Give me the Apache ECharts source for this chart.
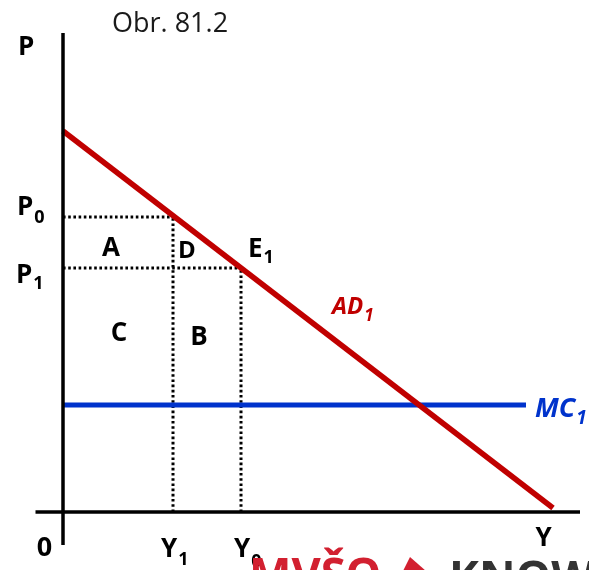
<!DOCTYPE html>
<html><head><meta charset="utf-8">
<script src="https://cdn.jsdelivr.net/npm/echarts@6/dist/echarts.min.js"></script>
<style>html,body{margin:0;padding:0;background:#fff}#c{width:589px;height:570px}</style>
</head><body><div id="c"></div>
<script>
// ---- data (economic units) ----
const xRange = [-12.6, 105.2];
const yRange = [-11.6, 102.4];
const adCurve = [[0, 76.2], [98, 0.8]];          // AD1
const mcCurve = [[0, 21.4], [92.6, 21.4]];       // MC1
const priceLevels = [59, 48.8];                  // P0, P1
const outputLevels = [22, 35.6];                 // Y1, Y0
const xAxisExtent = [-5.5, 103.4];
const yAxisExtent = [-6.6, 95.8];

const FONT = '"Open Sans", "Noto Sans", sans-serif';
const chart = echarts.init(document.getElementById('c'), null, {renderer: 'canvas'});

const dotted = {color: '#000', width: 3, type: [2.6, 2.6]};
function seg(data, ls, z) {
  return {type: 'line', data, symbol: 'none', silent: true, z: z, lineStyle: ls, animation: false};
}
const [P0, P1] = priceLevels;
const [Y1, Y0] = outputLevels;

chart.setOption({
  animation: false,
  grid: {left: 0, right: 0, top: 0, bottom: 0},
  xAxis: {type: 'value', min: xRange[0], max: xRange[1], show: false},
  yAxis: {type: 'value', min: yRange[0], max: yRange[1], show: false},
  series: [
    seg([[0, P0], [Y1, P0]], dotted, 2),
    seg([[Y1, 0], [Y1, P0]], dotted, 2),
    seg([[0, P1], [Y0, P1]], dotted, 2),
    seg([[Y0, 0], [Y0, P1]], dotted, 2),
    seg(mcCurve, {color: '#0033CC', width: 5}, 3),
    seg(adCurve, {color: '#C00000', width: 5.5}, 4),
    seg([[xAxisExtent[0], 0], [xAxisExtent[1], 0]], {color: '#000', width: 3.5}, 5),
    seg([[0, yAxisExtent[0]], [0, yAxisExtent[1]]], {color: '#000', width: 3.5}, 5)
  ]
});

const ctx = document.createElement('canvas').getContext('2d');
function measure(t, font) { ctx.font = font; return ctx.measureText(t).width; }

const g = [];
function label(anchor, dx, dy, main, sub, o) {
  o = o || {};
  const [ax, ay] = chart.convertToPixel({gridIndex: 0}, anchor);
  const size = o.size || 26, subSize = o.subSize || 18;
  const st = o.italic ? 'italic ' : '';
  const font = st + 'bold ' + size + 'px ' + FONT;
  const sfont = st + 'bold ' + subSize + 'px ' + FONT;
  const align = o.align || 'left';
  const x = ax + dx, y = ay + dy;
  g.push({type: 'text', x: x, y: y, z: 10, style: {text: main, font: font, fill: o.color || '#000', textAlign: align, textVerticalAlign: 'middle'}});
  if (sub) {
    const w = measure(main, font);
    const left = align === 'center' ? x + w / 2 : x + w;
    g.push({type: 'text', x: left + (o.subGap == null ? 1 : o.subGap), y: y + (o.subDy == null ? 9 : o.subDy), z: 10,
      style: {text: sub, font: sfont, fill: o.color || '#000', textAlign: 'left', textVerticalAlign: 'middle'}});
  }
}

label([0, yAxisExtent[1]], -45, 15, 'P');
label([0, P0], -46, -9, 'P', '0', {subDy: 10});
label([0, P1], -47, 8, 'P', '1', {subDy: 8});
label([Y1 / 2, (P0 + P1) / 2], -7, 6, 'A', null, {align: 'center'});
label([Y1, (P0 + P1) / 2], 14, 9, 'D', null, {align: 'center', size: 24});
label([Y0, P1], 7, -18, 'E', '1', {subDy: 8});
label([Y1 / 2, P1], 1, 66, 'C', null, {align: 'center'});
label([(Y1 + Y0) / 2, P1], -8, 70, 'B', null, {align: 'center'});
label([54, adCurve[0][1] + (adCurve[1][1] - adCurve[0][1]) * 54 / adCurve[1][0]], -1, -32, 'AD', '1',
  {italic: true, color: '#C00000', size: 24, subSize: 17, subDy: 9});
label(mcCurve[1], 9, 4, 'MC', '1', {italic: true, color: '#0033CC', size: 27, subSize: 19, subDy: 10});
label([0, 0], -18.5, 36, '0', null, {align: 'center', size: 27});
label([Y1, 0], -12, 38, 'Y', '1', {subDy: 10});
label([Y0, 0], -7, 38, 'Y', '0', {subDy: 12});
label([xAxisExtent[1], 0], -36.5, 27, 'Y', null, {align: 'center'});

// title
g.push({type: 'text', x: 112, y: 24, z: 10, style: {text: 'Obr. 81.2', font: '27px ' + FONT, fill: '#1a1a1a', textAlign: 'left', textVerticalAlign: 'middle'}});
// watermark (cut off at bottom)
g.push({type: 'text', x: 249, y: 577, z: 10, style: {text: 'MVŠO', font: 'bold 45px ' + FONT, fill: '#D22030', textAlign: 'left', textVerticalAlign: 'middle'}});
g.push({type: 'polygon', z: 10, shape: {points: [[403, 571], [410, 557], [426, 571]]}, style: {fill: '#D22030'}});
g.push({type: 'text', x: 449, y: 580, z: 10, style: {text: 'KNOWLEDGE', font: 'bold 45px ' + FONT, fill: '#333333', textAlign: 'left', textVerticalAlign: 'middle'}});

chart.setOption({graphic: {elements: g}});
</script>
</body></html>
